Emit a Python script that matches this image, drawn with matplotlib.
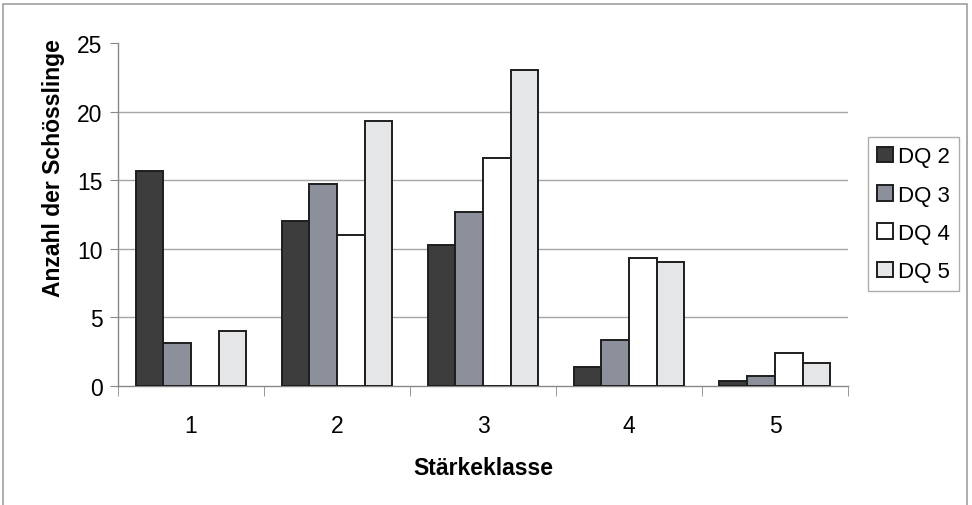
import matplotlib.pyplot as plt
import numpy as np
from matplotlib.patches import Rectangle

plt.rcParams["font.family"] = ["Liberation Sans", "DejaVu Sans"]

# Anzahl der Schösslinge je Stärkeklasse und Dauerquadrat
klassen = ["1", "2", "3", "4", "5"]
serien = ["DQ 2", "DQ 3", "DQ 4", "DQ 5"]
dq2 = [15.7, 12.0, 10.3, 1.4, 0.35]
dq3 = [3.1, 14.7, 12.65, 3.35, 0.7]
dq4 = [0.0, 11.0, 16.65, 9.3, 2.4]
dq5 = [4.0, 19.3, 23.05, 9.05, 1.7]
farben = ["#3c3d3c", "#8b909b", "#ffffff", "#e5e6e8"]

fig = plt.figure(figsize=(9.72, 5.06), dpi=100)
ax = fig.add_axes([0.1214, 0.2352, 0.751, 0.6778])

x = np.arange(len(klassen))
breite = 0.19
for i, (werte, name) in enumerate(zip([dq2, dq3, dq4, dq5], serien)):
    ax.bar(x + (i - 1.5) * breite, werte, breite, color=farben[i],
           edgecolor="#1e1e1e", linewidth=1.4, label=name, zorder=3)

ax.set_xlim(-0.5, len(klassen) - 0.5)
ax.set_ylim(0, 25)
ax.set_yticks([0, 5, 10, 15, 20, 25])
for y in [5, 10, 15, 20]:
    ax.axhline(y, color="#a6a6a6", linewidth=1.0, zorder=1)

# Kategorien mittig, Teilstriche an den Klassengrenzen
ax.set_xticks(x)
ax.set_xticklabels(klassen)
ax.set_xticks(np.arange(-0.5, len(klassen)), minor=True)
ax.tick_params(axis="x", which="major", length=0, pad=20, labelsize=16.5)
ax.tick_params(axis="x", which="minor", length=7, color="#888888")
ax.tick_params(axis="y", length=6, color="#888888", pad=5, labelsize=16.5)

for s in ["top", "right"]:
    ax.spines[s].set_visible(False)
for s in ["left", "bottom"]:
    ax.spines[s].set_color("#888888")
    ax.spines[s].set_linewidth(1.0)

ax.set_xlabel("Stärkeklasse", fontsize=16.5, fontweight="bold", labelpad=14)
ax.set_ylabel("Anzahl der Schösslinge", fontsize=16.5, fontweight="bold")
ax.yaxis.set_label_coords(-0.073, 0.638)

leg = ax.legend(loc="upper left", bbox_to_anchor=(1.028, 0.725), frameon=True,
                fancybox=False, fontsize=16, handlelength=0.7, handleheight=0.7,
                handletextpad=0.25, labelspacing=0.78, borderpad=0.4,
                borderaxespad=0)
leg.get_frame().set_edgecolor("#999999")
leg.get_frame().set_linewidth(1.0)

# Rahmen um die gesamte Grafik
fig.patches.append(Rectangle((0.003, -0.01), 0.992, 1.0, transform=fig.transFigure,
                             fill=False, edgecolor="#a0a0a0", linewidth=1.2))

fig.savefig("out.png", dpi=100)
